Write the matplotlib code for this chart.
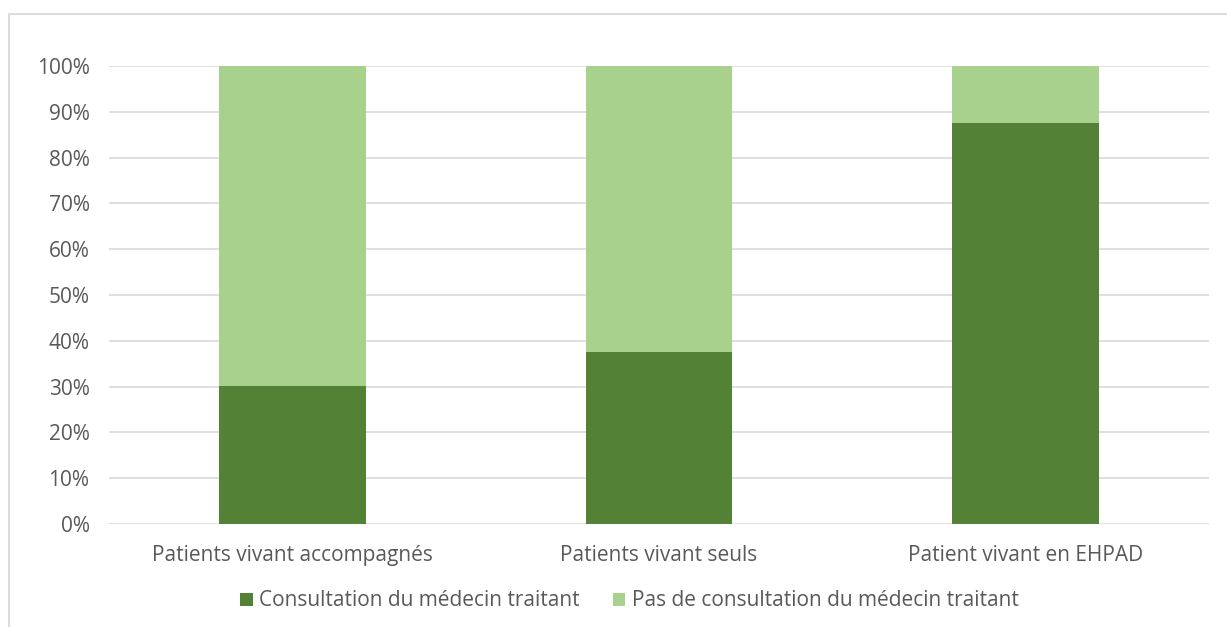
import matplotlib
matplotlib.use("Agg")
import matplotlib.pyplot as plt
from matplotlib.patches import Rectangle
from matplotlib.ticker import PercentFormatter

categories = ["Patients vivant accompagnés", "Patients vivant seuls", "Patient vivant en EHPAD"]
consultation = [30.2, 37.5, 87.5]
pas_consultation = [100 - v for v in consultation]
series_names = ["Consultation du médecin traitant", "Pas de consultation du médecin traitant"]

dark = "#538135"
light = "#a9d18e"
txt = "#595959"

plt.rcParams['font.family'] = ['Open Sans', 'DejaVu Sans']

fig = plt.figure(figsize=(12.27, 6.27), dpi=100)
# outer chart border (Excel style)
fig.patches.append(Rectangle((9 / 1227, -0.1), 1.2, 1 - 14 / 627 + 0.1,
                             transform=fig.transFigure, fill=False,
                             edgecolor="#d9d9d9", linewidth=1.3))

ax = fig.add_axes([109 / 1227, 1 - 524 / 627, 1100 / 1227, 458 / 627])
x = range(len(categories))
ax.bar(x, consultation, width=0.4, color=dark, label=series_names[0], zorder=3)
ax.bar(x, pas_consultation, width=0.4, bottom=consultation, color=light,
       label=series_names[1], zorder=3)

ax.set_xlim(-0.5, 2.5)
ax.set_ylim(0, 100)
ax.set_yticks(range(0, 101, 10))
ax.yaxis.set_major_formatter(PercentFormatter(decimals=0))
ax.grid(axis="y", color="#d9d9d9", linewidth=1.2, zorder=0)
ax.set_xticks(list(x))
ax.set_xticklabels(categories)
for s in ax.spines.values():
    s.set_visible(False)
ax.tick_params(axis="both", length=0, labelsize=15, colors=txt)
ax.tick_params(axis="x", pad=15)
ax.tick_params(axis="y", pad=14)

leg = fig.legend(loc="center", bbox_to_anchor=(0.513, 1 - 601 / 627), ncol=2,
                 frameon=False, fontsize=15, handlelength=0.6, handleheight=0.6,
                 handletextpad=0.3, columnspacing=1.6, labelcolor=txt)

fig.savefig("out.png", dpi=100)
